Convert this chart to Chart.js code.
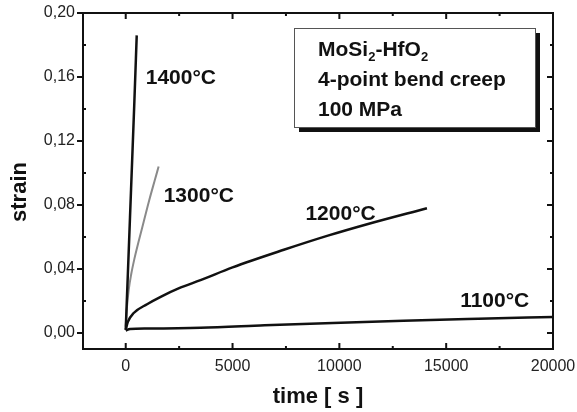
<!DOCTYPE html>
<html>
<head>
<meta charset="utf-8">
<script src="https://cdn.jsdelivr.net/npm/chart.js@4/dist/chart.umd.min.js"></script>
<style>
  html, body { margin: 0; padding: 0; background: #fff; }
  #wrap { width: 577px; height: 412px; }
</style>
</head>
<body>
<div id="wrap"><canvas id="chart" width="577" height="412"></canvas></div>
<script>
// creep curves (time in s, strain)
const t1400 = [0, 100, 250, 400, 515];
const s1400 = [0.002, 0.037, 0.09, 0.143, 0.186];

const t1300 = [0, 50, 140, 260, 400, 600, 850, 1100, 1350, 1540];
const s1300 = [0.004, 0.015, 0.027, 0.037, 0.046, 0.057, 0.070, 0.083, 0.095, 0.104];

const t1200 = [0, 100, 374, 1000, 1635, 2500, 3500, 5000, 7400, 9500, 11300, 14100];
const s1200 = [0.002, 0.007, 0.0125, 0.018, 0.0226, 0.028, 0.033, 0.041, 0.052, 0.061, 0.068, 0.078];

const t1100 = [0, 200, 1000, 3500, 6500, 9700, 13000, 16500, 20000];
const s1100 = [0.0015, 0.0025, 0.0028, 0.0033, 0.0048, 0.0063, 0.0077, 0.0089, 0.010];

const xTicks = [0, 5000, 10000, 15000, 20000];
const xMinor = [2500, 7500, 12500, 17500];
const yTicks = [0, 0.04, 0.08, 0.12, 0.16, 0.20];
const yMinor = [0.02, 0.06, 0.10, 0.14, 0.18];

// curve labels, placed in data units
const curveLabels = ['1400°C', '1300°C', '1200°C', '1100°C'];
const labelT = [935, 1776, 8411, 15654];
const labelS = [0.159, 0.0855, 0.0742, 0.0196];

const boxLines = ['4-point bend creep', '100 MPa'];

function pts(t, s) {
  return t.map((v, i) => ({ x: v, y: s[i] }));
}

const FONT = '"Liberation Sans", Arial, Helvetica, sans-serif';

const decorations = {
  id: 'decorations',
  afterDraw(chart) {
    const ctx = chart.ctx;
    const a = chart.chartArea;
    const xs = chart.scales.x, ys = chart.scales.y;
    ctx.save();

    // frame
    ctx.strokeStyle = '#111';
    ctx.lineWidth = 2;
    ctx.strokeRect(a.left, a.top, a.right - a.left, a.bottom - a.top);

    // ticks
    ctx.beginPath();
    xTicks.forEach(v => {
      const px = xs.getPixelForValue(v);
      ctx.moveTo(px, a.bottom); ctx.lineTo(px, a.bottom - 6);
      ctx.moveTo(px, a.top); ctx.lineTo(px, a.top + 6);
    });
    xMinor.forEach(v => {
      const px = xs.getPixelForValue(v);
      ctx.moveTo(px, a.bottom); ctx.lineTo(px, a.bottom - 3);
      ctx.moveTo(px, a.top); ctx.lineTo(px, a.top + 3);
    });
    yTicks.forEach(v => {
      const py = ys.getPixelForValue(v);
      ctx.moveTo(a.left, py); ctx.lineTo(a.left - 6, py);
      ctx.moveTo(a.right, py); ctx.lineTo(a.right - 6, py);
    });
    yMinor.forEach(v => {
      const py = ys.getPixelForValue(v);
      ctx.moveTo(a.left, py); ctx.lineTo(a.left + 3, py);
      ctx.moveTo(a.right, py); ctx.lineTo(a.right - 3, py);
    });
    ctx.stroke();

    // curve labels
    ctx.fillStyle = '#111';
    ctx.font = 'bold 21px ' + FONT;
    ctx.textAlign = 'left';
    ctx.textBaseline = 'middle';
    curveLabels.forEach((txt, i) => {
      ctx.fillText(txt, xs.getPixelForValue(labelT[i]), ys.getPixelForValue(labelS[i]));
    });

    // info box with shadow
    const bx = 294, by = 28, bw = 241, bh = 99;
    ctx.fillStyle = '#111';
    ctx.fillRect(bx + 5, by + 5, bw, bh);
    ctx.fillStyle = '#fff';
    ctx.fillRect(bx, by, bw, bh);
    ctx.strokeStyle = '#555';
    ctx.lineWidth = 1;
    ctx.strokeRect(bx + 0.5, by + 0.5, bw, bh);

    ctx.fillStyle = '#111';
    let x = 318;
    const y1 = 50;
    const part = (txt, sub) => {
      if (sub) {
        ctx.font = 'bold 13px ' + FONT;
        ctx.fillText(txt, x, y1 + 7);
      } else {
        ctx.font = 'bold 21px ' + FONT;
        ctx.fillText(txt, x, y1);
      }
      x += ctx.measureText(txt).width;
    };
    part('MoSi'); part('2', true); part('-HfO'); part('2', true);
    ctx.font = 'bold 21px ' + FONT;
    ctx.fillText(boxLines[0], 318, 80);
    ctx.fillText(boxLines[1], 318, 110);

    // axis titles
    ctx.font = 'bold 22px ' + FONT;
    ctx.textAlign = 'center';
    ctx.fillText('time [ s ]', (a.left + a.right) / 2, 397);
    ctx.translate(20, 192);
    ctx.rotate(-Math.PI / 2);
    ctx.fillText('strain', 0, 0);

    ctx.restore();
  }
};

const lineStyle = { showLine: true, pointRadius: 0, borderWidth: 2.5, fill: false, cubicInterpolationMode: 'monotone' };

function noPad(s) {
  s.paddingLeft = 0; s.paddingRight = 0; s.paddingTop = 0; s.paddingBottom = 0;
}

new Chart(document.getElementById('chart'), {
  type: 'scatter',
  data: {
    datasets: [
      { ...lineStyle, data: pts(t1400, s1400), borderColor: '#111' },
      { ...lineStyle, data: pts(t1300, s1300), borderColor: '#8a8a8a', borderWidth: 2 },
      { ...lineStyle, data: pts(t1200, s1200), borderColor: '#111' },
      { ...lineStyle, data: pts(t1100, s1100), borderColor: '#111' }
    ]
  },
  options: {
    responsive: false,
    animation: false,
    layout: { padding: { top: 13, right: 24, left: 0, bottom: 0 } },
    plugins: { legend: { display: false }, tooltip: { enabled: false } },
    scales: {
      x: {
        type: 'linear',
        min: -2000,
        max: 20000,
        grid: { display: false, drawTicks: false },
        border: { display: false },
        afterBuildTicks: s => { s.ticks = xTicks.map(v => ({ value: v })); },
        afterFit: s => { s.height = 63; noPad(s); },
        ticks: {
          color: '#222',
          font: { family: FONT, size: 16 },
          padding: 8,
          maxRotation: 0,
          callback: v => String(v)
        }
      },
      y: {
        type: 'linear',
        min: -0.01,
        max: 0.2,
        grid: { display: false, drawTicks: false },
        border: { display: false },
        afterBuildTicks: s => { s.ticks = yTicks.map(v => ({ value: v })); },
        afterFit: s => { s.width = 83; noPad(s); },
        ticks: {
          color: '#222',
          font: { family: FONT, size: 16 },
          padding: 8,
          callback: v => v.toFixed(2).replace('.', ',')
        }
      }
    }
  },
  plugins: [decorations]
});
</script>
</body>
</html>
